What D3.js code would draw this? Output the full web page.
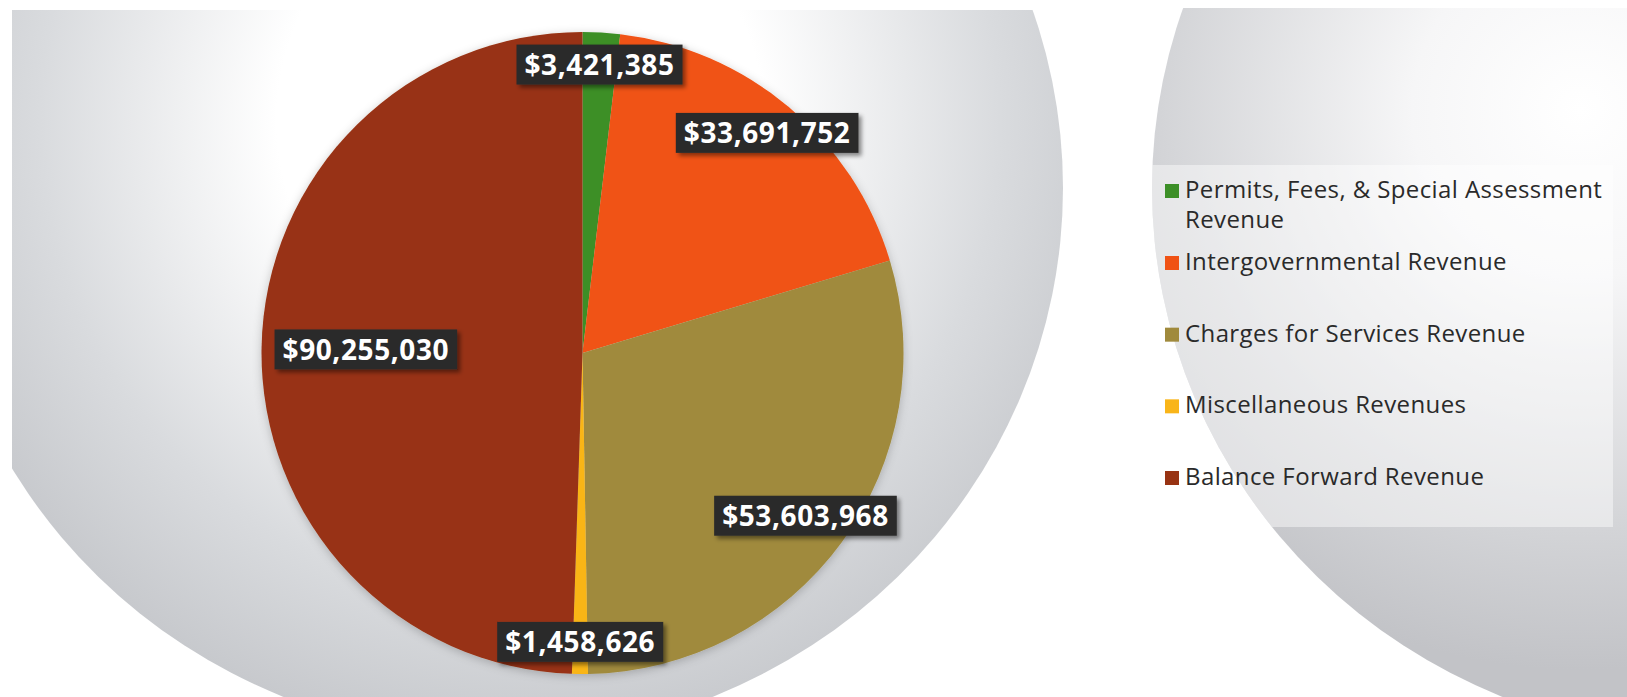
<!DOCTYPE html>
<html>
<head>
<meta charset="utf-8">
<script src="https://cdn.jsdelivr.net/npm/d3@7"></script>
<style>
  html, body { margin: 0; padding: 0; background: #ffffff; }
  svg { display: block; }
</style>
</head>
<body>
<svg id="chart" width="1627" height="697"></svg>
<script>
// ---- data ----
const categories = [
  "Permits, Fees, & Special Assessment Revenue",
  "Intergovernmental Revenue",
  "Charges for Services Revenue",
  "Miscellaneous Revenues",
  "Balance Forward Revenue"
];
const values = [3421385, 33691752, 53603968, 1458626, 90255030];
const colors = ["#3c8f27", "#f05214", "#a08a3c", "#f9b519", "#983313"];

// ---- layout ----
const W = 1627, H = 697;
const svg = d3.select("#chart");
const defs = svg.append("defs");

// background panels (slide design)
const leftGrad = defs.append("radialGradient").attr("id", "lg")
  .attr("gradientUnits", "userSpaceOnUse").attr("cx", 520).attr("cy", 120).attr("r", 640);
leftGrad.append("stop").attr("offset", 0).attr("stop-color", "#ffffff");
leftGrad.append("stop").attr("offset", 0.38).attr("stop-color", "#ffffff");
leftGrad.append("stop").attr("offset", 0.75).attr("stop-color", "#d9dbde");
leftGrad.append("stop").attr("offset", 1).attr("stop-color", "#c5c7cb");

const rightGrad = defs.append("radialGradient").attr("id", "rg")
  .attr("gradientUnits", "userSpaceOnUse").attr("cx", 1580).attr("cy", 110).attr("r", 560);
rightGrad.append("stop").attr("offset", 0).attr("stop-color", "#ffffff");
rightGrad.append("stop").attr("offset", 0.3).attr("stop-color", "#f6f6f7");
rightGrad.append("stop").attr("offset", 0.75).attr("stop-color", "#d3d4d7");
rightGrad.append("stop").attr("offset", 1).attr("stop-color", "#c2c3c7");

defs.append("clipPath").attr("id", "lclip")
  .append("ellipse").attr("cx", 498).attr("cy", 188).attr("rx", 565).attr("ry", 550);
defs.append("clipPath").attr("id", "rclip")
  .append("ellipse").attr("cx", 1717).attr("cy", 188).attr("rx", 565).attr("ry", 550);

svg.append("rect").attr("width", W).attr("height", H).attr("fill", "#ffffff");
svg.append("g").attr("clip-path", "url(#lclip)")
  .append("rect").attr("x", 12).attr("y", 10).attr("width", 1100).attr("height", H)
  .attr("fill", "url(#lg)");
const rightPanel = svg.append("g").attr("clip-path", "url(#rclip)");
rightPanel.append("rect").attr("x", 1100).attr("y", 8).attr("width", W - 1100).attr("height", H)
  .attr("fill", "url(#rg)");
// legend area (lighter box)
rightPanel.append("rect").attr("x", 1100).attr("y", 165).attr("width", 513).attr("height", 362)
  .attr("fill", "#ffffff").attr("opacity", 0.45);

// filters
const pieShadow = defs.append("filter").attr("id", "pieShadow")
  .attr("x", "-10%").attr("y", "-10%").attr("width", "120%").attr("height", "120%");
pieShadow.append("feDropShadow").attr("dx", 0).attr("dy", 2).attr("stdDeviation", 5)
  .attr("flood-color", "#000").attr("flood-opacity", 0.22);
const boxShadow = defs.append("filter").attr("id", "boxShadow")
  .attr("x", "-20%").attr("y", "-40%").attr("width", "140%").attr("height", "180%");
boxShadow.append("feDropShadow").attr("dx", 3).attr("dy", 3).attr("stdDeviation", 2)
  .attr("flood-color", "#000").attr("flood-opacity", 0.45);

// ---- pie ----
const cx = 582.5, cy = 353, R = 321;
const pie = d3.pie().sort(null).value(d => d)(values);
const arc = d3.arc().innerRadius(0).outerRadius(R);
const color = d3.scaleOrdinal().domain(categories).range(colors);

const g = svg.append("g").attr("transform", `translate(${cx},${cy})`);
g.append("g").attr("filter", "url(#pieShadow)")
  .selectAll("path").data(pie).join("path")
  .attr("d", arc)
  .attr("fill", (d, i) => color(categories[i]));

// data labels
const labelRadius = [0.9, 0.895, 0.86, 0.9, 0.675];
const fmt = d => "$" + d3.format(",")(d);
const labels = g.append("g").selectAll("g").data(pie).join("g")
  .attr("transform", (d, i) => {
    const a = (d.startAngle + d.endAngle) / 2;
    const r = R * labelRadius[i];
    return `translate(${Math.sin(a) * r},${-Math.cos(a) * r})`;
  });
const boxes = labels.append("rect")
  .attr("fill", "#2c2c2c").attr("filter", "url(#boxShadow)");
const texts = labels.append("text")
  .attr("text-anchor", "middle").attr("dy", "0.36em")
  .attr("fill", "#ffffff")
  .style("font-family", "'Open Sans', 'DejaVu Sans', sans-serif")
  .style("font-weight", 700).style("font-size", "28px").style("letter-spacing", "0.6px")
  .text(d => fmt(d.data));
texts.each(function (d, i) {
  const w = this.getComputedTextLength();
  d3.select(boxes.nodes()[i])
    .attr("x", -w / 2 - 8).attr("y", -20).attr("width", w + 16).attr("height", 40);
});

// ---- legend ----
const legend = svg.append("g").attr("transform", "translate(1165,0)");
const legendFont = "'Open Sans', 'Noto Sans', sans-serif";
const itemY = d3.scaleLinear().domain([1, 4]).range([270, 485]);
const maxW = 445;
categories.forEach((name, i) => {
  const base = i === 0 ? 198 : itemY(i);
  const item = legend.append("g");
  item.append("rect").attr("x", 0).attr("y", base - 14).attr("width", 14).attr("height", 14)
    .attr("fill", color(name));
  const t = item.append("text").attr("x", 20).attr("y", base)
    .attr("fill", "#2a2a2a")
    .style("font-family", legendFont).style("font-size", "24px").style("letter-spacing", "0.4px");
  // simple word wrap
  const words = name.split(" ");
  let line = [], lineNo = 0;
  let tspan = t.append("tspan").attr("x", 20).attr("y", base);
  words.forEach(w => {
    line.push(w);
    tspan.text(line.join(" "));
    if (tspan.node().getComputedTextLength() > maxW && line.length > 1) {
      line.pop();
      tspan.text(line.join(" "));
      line = [w];
      lineNo++;
      tspan = t.append("tspan").attr("x", 20).attr("y", base + lineNo * 30).text(w);
    }
  });
});
</script>
</body>
</html>
